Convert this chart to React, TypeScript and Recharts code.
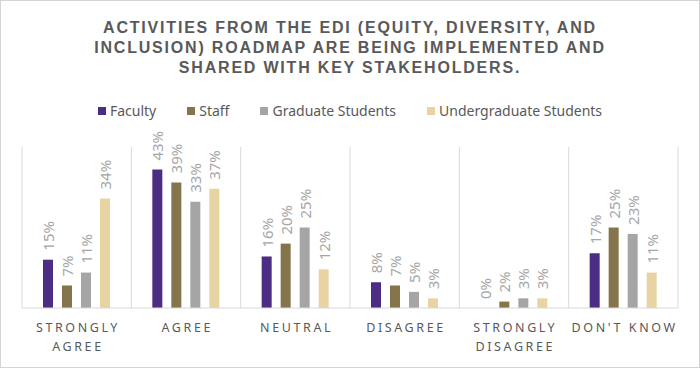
import React from 'react';
import { BarChart, Bar, XAxis, YAxis, CartesianGrid, Legend, LabelList } from 'recharts';

const categories = ['STRONGLY AGREE', 'AGREE', 'NEUTRAL', 'DISAGREE', 'STRONGLY DISAGREE', "DON'T KNOW"];
const faculty = [15, 43, 16, 8, 0, 17];
const staff = [7, 39, 20, 7, 2, 25];
const gradStudents = [11, 33, 25, 5, 3, 23];
const undergradStudents = [34, 37, 12, 3, 3, 11];

const titleLines = [
  'ACTIVITIES FROM THE EDI (EQUITY, DIVERSITY, AND',
  'INCLUSION) ROADMAP ARE BEING IMPLEMENTED AND',
  'SHARED WITH KEY STAKEHOLDERS.',
];

const series = [
  { key: 'faculty', name: 'Faculty', color: '#4b2e83' },
  { key: 'staff', name: 'Staff', color: '#85754d' },
  { key: 'grad', name: 'Graduate Students', color: '#a5a5a5' },
  { key: 'undergrad', name: 'Undergraduate Students', color: '#e8d3a2' },
];

const data = categories.map((category, i) => ({
  category,
  faculty: faculty[i],
  staff: staff[i],
  grad: gradStudents[i],
  undergrad: undergradStudents[i],
}));

const FONT = '"Noto Sans", "Open Sans", sans-serif';

// category names wrap after STRONGLY like in the original
const CategoryTick = ({ x, y, payload }: any) => {
  const text: string = payload.value;
  const lines = text.startsWith('STRONGLY ') ? ['STRONGLY', text.slice(9)] : [text];
  return (
    <g>
      {lines.map((line, i) => (
        <text
          key={i}
          x={x + 1.3}
          y={y + 16 + i * 19}
          textAnchor="middle"
          fill="#595959"
          fontSize={12.5}
          letterSpacing={2.6}
          fontFamily={FONT}
        >
          {line}
        </text>
      ))}
    </g>
  );
};

const ValueLabel = ({ x, y, width, value }: any) => {
  const cx = x + width / 2;
  const ty = y - 9;
  return (
    <text
      x={cx}
      y={ty}
      transform={`rotate(-90, ${cx}, ${ty})`}
      textAnchor="start"
      dominantBaseline="central"
      fill="#a6a6a6"
      fontSize={15}
      fontFamily={FONT}
    >
      {`${value}%`}
    </text>
  );
};

const LegendContent = () => (
  <div
    style={{
      display: 'flex',
      justifyContent: 'center',
      gap: 31,
      fontFamily: FONT,
      fontSize: 14,
      color: '#595959',
    }}
  >
    {series.map((s) => (
      <div key={s.key} style={{ display: 'flex', alignItems: 'center' }}>
        <span style={{ width: 8, height: 8, background: s.color, marginRight: 4, display: 'inline-block' }} />
        <span>{s.name}</span>
      </div>
    ))}
  </div>
);

const App = () => {
  return (
    <div style={{ position: 'relative', width: 700, height: 368, background: '#fff' }}>
      <style>{`body{margin:0}`}</style>
      <div
        style={{
          position: 'absolute',
          top: 18,
          left: 0,
          width: 700,
          textAlign: 'center',
          fontFamily: '"Liberation Sans", Arial, sans-serif',
          fontWeight: 'bold',
          fontSize: 16,
          lineHeight: '20px',
          letterSpacing: 1.8,
          color: '#595959',
        }}
      >
        {titleLines.map((l) => (
          <div key={l}>{l}</div>
        ))}
      </div>
      <BarChart
        width={700}
        height={368}
        data={data}
        margin={{ top: 147, right: 22, bottom: 0, left: 22 }}
        barSize={10}
        barGap={9}
      >
        <CartesianGrid
          horizontal={false}
          stroke="#d9d9d9"
          verticalCoordinatesGenerator={({ offset }: any) =>
            [0, 1, 2, 3, 4, 5, 6].map((i) => offset.left + (i * offset.width) / 6)
          }
        />
        <XAxis
          dataKey="category"
          height={60}
          axisLine={{ stroke: '#d9d9d9' }}
          tickLine={false}
          tick={<CategoryTick />}
          interval={0}
        />
        <YAxis hide domain={[0, 50]} />
        <Legend
          verticalAlign="middle"
          align="center"
          wrapperStyle={{ top: 101, left: 0, width: 700 }}
          content={<LegendContent />}
        />
        {series.map((s) => (
          <Bar
            key={s.key}
            dataKey={s.key}
            name={s.name}
            fill={s.color}
            minPointSize={0.01}
            isAnimationActive={false}
          >
            <LabelList dataKey={s.key} content={<ValueLabel />} />
          </Bar>
        ))}
      </BarChart>
      <div
        style={{
          position: 'absolute',
          inset: 0,
          border: '1px solid #d4d4d4',
          pointerEvents: 'none',
        }}
      />
    </div>
  );
};

export default App;
